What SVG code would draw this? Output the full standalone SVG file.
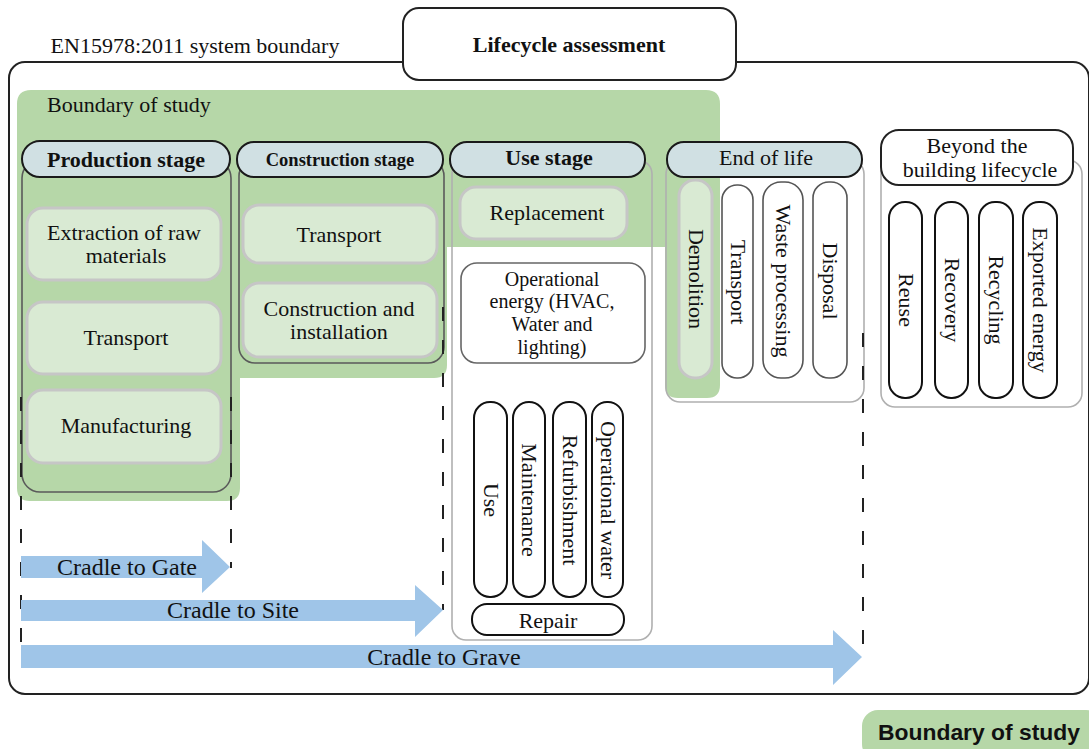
<svg xmlns="http://www.w3.org/2000/svg" width="1089" height="749" viewBox="0 0 1089 749">
<style>
text{font-family:"Liberation Serif","Times New Roman",serif;font-size:22px;fill:#111;text-anchor:middle}
.b{font-weight:bold}
.hdr{fill:#d0e0e3;stroke:#1a1a1a;stroke-width:2}
.gitem{fill:#d9ead3;stroke:#c6c6c6;stroke-width:3}
.cont{fill:none;stroke:#5a5a5a;stroke-width:1.6}
.contl{fill:none;stroke:#b0b0b0;stroke-width:1.6}
.pill{fill:#fff;stroke:#111;stroke-width:2}
.pillg{fill:#fff;stroke:#555;stroke-width:1.6}
.dash{stroke:#222;stroke-width:2;stroke-dasharray:14 19;fill:none}
.arr{fill:#9fc5e8}
.arrt{font-size:24px}
.oe{font-size:20px}
</style>
<g id="system-boundary">
<rect x="9" y="62" width="1080" height="632" rx="16" fill="#fff" stroke="#222" stroke-width="2"/>
<text x="195" y="53">EN15978:2011 system boundary</text>
</g>
<g id="title">
<rect x="403" y="8" width="333" height="72" rx="16" fill="#fff" stroke="#222" stroke-width="2"/>
<text class="b" x="569" y="52">Lifecycle assessment</text>
</g>
<g id="boundary-of-study">
<path d="M31 90 H706 Q720 90 720 104 V385 Q720 398 707 398 H678 Q665 398 665 385 V247 H447 V365 Q447 378 434 378 H240 V488 Q240 501 227 501 H30 Q17 501 17 488 V104 Q17 90 31 90 Z" fill="#b6d7a8"/>
<text x="129" y="112">Boundary of study</text>
</g>
<g id="production-stage">
<rect class="cont" x="22" y="160" width="209" height="332" rx="18"/>
<rect class="hdr" x="22" y="141" width="208" height="36" rx="18"/>
<text class="b" x="126" y="167">Production stage</text>
<rect class="gitem" x="27" y="208" width="194" height="72" rx="16"/>
<text x="124" y="240">Extraction of raw</text>
<text x="126" y="263">materials</text>
<rect class="gitem" x="27" y="302" width="194" height="72" rx="16"/>
<text x="126" y="345">Transport</text>
<rect class="gitem" x="27" y="390" width="194" height="73" rx="16"/>
<text x="126" y="433">Manufacturing</text>
</g>
<g id="construction-stage">
<rect class="cont" x="239" y="160" width="205" height="203" rx="16"/>
<rect class="hdr" x="237" y="142" width="206" height="35" rx="17"/>
<text class="b" x="340" y="166" style="font-size:18.5px">Construction stage</text>
<rect class="gitem" x="243" y="205" width="194" height="58" rx="16"/>
<text x="339" y="242">Transport</text>
<rect class="gitem" x="243" y="283" width="194" height="74" rx="16"/>
<text x="339" y="316">Construction and</text>
<text x="339" y="339">installation</text>
</g>
<g id="use-stage">
<path d="M447 160 H665 V235 Q665 247 653 247 H447 Z" fill="#b6d7a8"/>
<rect class="contl" x="452" y="160" width="200" height="480" rx="14"/>
<rect class="hdr" x="450" y="142" width="195" height="35" rx="17"/>
<text class="b" x="549" y="165">Use stage</text>
<rect class="gitem" x="460" y="187" width="167" height="52" rx="16"/>
<text x="547" y="220">Replacement</text>
<rect x="461" y="263" width="184" height="100" rx="16" fill="#fff" stroke="#666" stroke-width="1.6"/>
<text class="oe" x="552" y="286">Operational</text>
<text class="oe" x="552" y="308">energy (HVAC,</text>
<text class="oe" x="552" y="331">Water and</text>
<text class="oe" x="552" y="354">lighting)</text>
<rect class="pill" x="474" y="402" width="33" height="195" rx="16"/>
<text transform="translate(490.5,500) rotate(90)" x="0" y="7">Use</text>
<rect class="pill" x="513" y="402" width="32" height="195" rx="16"/>
<text transform="translate(529,500) rotate(90)" x="0" y="7">Maintenance</text>
<rect class="pill" x="553" y="402" width="33" height="195" rx="16"/>
<text transform="translate(569.5,500) rotate(90)" x="0" y="7">Refurbishment</text>
<rect class="pill" x="592" y="402" width="31" height="195" rx="15"/>
<text transform="translate(607.5,500) rotate(90)" x="0" y="7">Operational water</text>
<rect class="pill" x="472" y="604" width="152" height="31" rx="15"/>
<text x="548" y="628">Repair</text>
</g>
<g id="end-of-life">
<rect class="contl" x="666" y="160" width="198" height="242" rx="14"/>
<rect class="hdr" x="667" y="142" width="195" height="35" rx="17"/>
<text x="766" y="165">End of life</text>
<rect class="gitem" x="679" y="180" width="33" height="198" rx="16"/>
<text transform="translate(695.5,279) rotate(90)" x="0" y="7">Demolition</text>
<rect class="pillg" x="722" y="185" width="31" height="193" rx="15"/>
<text transform="translate(737.5,282) rotate(90)" x="0" y="7">Transport</text>
<rect class="pillg" x="763" y="182" width="40" height="196" rx="18"/>
<text transform="translate(783,281) rotate(90)" x="0" y="7">Waste processing</text>
<rect class="pillg" x="813" y="182" width="34" height="196" rx="16"/>
<text transform="translate(830,281) rotate(90)" x="0" y="7">Disposal</text>
</g>
<g id="beyond">
<rect class="contl" x="881" y="160" width="201" height="247" rx="14"/>
<rect x="881" y="130" width="192" height="55" rx="18" fill="#fff" stroke="#222" stroke-width="2"/>
<text x="977" y="153">Beyond the</text>
<text x="980" y="177">building lifecycle</text>
<rect class="pill" x="889" y="202" width="33" height="196" rx="16"/>
<text transform="translate(905.5,300) rotate(90)" x="0" y="7">Reuse</text>
<rect class="pill" x="935" y="202" width="33" height="196" rx="16"/>
<text transform="translate(951.5,300) rotate(90)" x="0" y="7">Recovery</text>
<rect class="pill" x="979" y="202" width="34" height="196" rx="16"/>
<text transform="translate(996,300) rotate(90)" x="0" y="7">Recycling</text>
<rect class="pill" x="1023" y="202" width="34" height="196" rx="16"/>
<text transform="translate(1040,300) rotate(90)" x="0" y="7">Exported energy</text>
</g>
<g id="connectors">
<line class="dash" x1="21" y1="397" x2="21" y2="648"/>
<line class="dash" x1="231" y1="397" x2="231" y2="568"/>
<line class="dash" x1="443" y1="307" x2="443" y2="610"/>
<line class="dash" x1="863" y1="333" x2="863" y2="652"/>
<polygon class="arr" points="21,556 202,556 202,540 230,567 202,593 202,578 21,578"/>
<polygon class="arr" points="21,600 415,600 415,585 443,610 415,637 415,621 21,621"/>
<polygon class="arr" points="21,645 833,645 833,630 862,657 833,685 833,668 21,668"/>
<text class="arrt" x="127" y="575">Cradle to Gate</text>
<text class="arrt" x="233" y="618">Cradle to Site</text>
<text class="arrt" x="444" y="665">Cradle to Grave</text>
</g>
<g id="legend">
<rect x="862" y="710" width="240" height="50" rx="16" fill="#b6d7a8"/>
<text x="979" y="740" style="font-family:'Liberation Sans',Arial,sans-serif;font-weight:bold;font-size:22px" textLength="202" lengthAdjust="spacingAndGlyphs">Boundary of study</text>
</g>
</svg>
